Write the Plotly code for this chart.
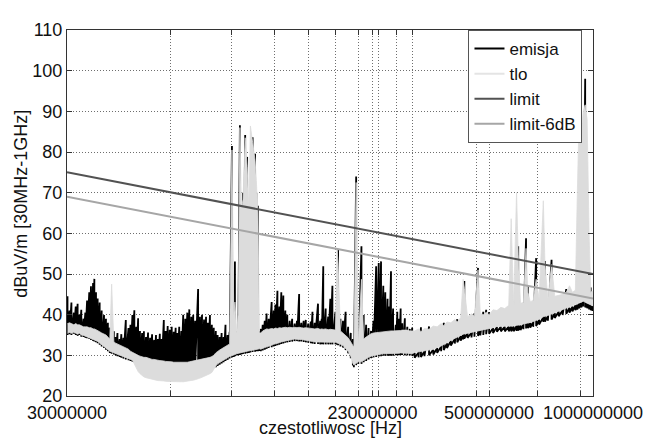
import math
import plotly.graph_objects as go

# ---- data (frequency in MHz, levels in dBuV/m) ----
freq_mhz = [
    30.1, 30.5, 30.9, 31.4, 31.8, 32.2, 32.6, 33.0, 33.5, 33.9,
    34.3, 34.8, 35.2, 35.7, 36.0, 36.4, 36.8, 37.3, 37.8, 38.4,
    38.9, 39.4, 39.9, 40.4, 41.0, 41.5, 42.0, 42.6, 43.1, 43.7,
    44.4, 45.2, 45.8, 46.4, 47.0, 47.6, 48.2, 48.8, 49.5, 50.1,
    50.8, 51.5, 52.2, 52.9, 53.6, 54.3, 55.0, 55.7, 56.4, 57.2,
    57.9, 58.7, 59.5, 60.3, 61.1, 61.9, 62.6, 63.4, 64.3, 65.1,
    66.0, 66.9, 67.8, 68.7, 69.6, 70.5, 71.9, 72.8, 73.8, 74.8,
    75.8, 76.7, 77.8, 78.8, 79.8, 80.9, 81.9, 83.0, 84.1, 85.2,
    86.3, 87.5, 88.7,
    90.1, 91.2, 91.9, 93.0, 93.9, 95.0, 96.0, 97.0, 98.4, 99.7,
    100.8, 101.9, 103.4, 105.1, 106.0, 107.1, 108.2,
    109.2, 110.6, 112.1, 113.5, 115.1, 117.4, 119.0, 120.4, 122.0, 123.6,
    125.2, 126.9, 128.6, 130.3, 132.4, 134.6, 136.8, 139.0, 141.0, 143.0,
    145.3, 147.4, 149.8, 152.4, 154.1, 156.4, 159.9, 162.2, 163.9, 165.6,
    168.3, 171.1, 173.6, 176.0, 179.6, 181.6, 182.8, 185.7, 188.9, 192.2,
    195.5, 198.9, 201.7, 203.1, 206.2, 209.2, 213.6, 216.8, 220.4, 224.0,
    227.7, 231.5, 235.6, 239.7, 243.4, 247.1, 250.4, 254.2, 257.1, 260.1,
    263.8, 268.5, 271.3, 274.3, 277.4, 280.3, 285.3, 290.0, 294.9, 299.6,
    304.6, 312.5, 317.6, 325.1, 335.2, 344.8, 353.9, 363.3, 369.8, 377.8,
    387.7, 398.0, 404.6, 414.0, 420.8, 424.1, 433.3, 444.8, 453.6, 464.6,
    471.8, 481.2, 490.6, 500.3, 513.6, 527.1, 541.1, 555.4, 570.2, 579.6,
    589.0, 600.7, 607.4, 616.7, 628.9, 640.0, 647.6, 658.3, 671.3, 684.6,
    698.2, 718.1, 726.0, 740.4, 758.6, 775.1, 795.7, 816.8, 836.7, 855.0,
    871.9, 889.1, 900.8, 912.7, 924.7, 936.8, 949.2, 961.7, 974.3, 985.2,
    996.8,
]

emisja_lo = [
    35.0, 35.2, 35.0, 35.3, 35.0, 34.8, 35.0, 34.6, 34.5, 34.3,
    34.2, 34.0, 33.8, 33.5, 33.4, 33.2, 33.0, 32.6, 32.2, 31.8,
    31.4, 31.0, 30.6, 30.4, 30.2, 30.0, 29.8, 29.6, 29.4, 29.2,
    29.0, 28.8, 28.6, 28.4, 28.3, 28.0, 28.0, 27.8, 27.6, 27.5,
    27.4, 27.3, 27.2, 27.1, 27.0, 27.0, 27.0, 27.0, 27.0, 27.0,
    27.0, 27.0, 27.0, 27.0, 27.0, 27.0, 27.0, 27.0, 27.0, 27.0,
    27.0, 27.0, 27.0, 27.0, 27.0, 27.0, 27.0, 27.0, 27.0, 27.0,
    27.0, 27.0, 27.0, 27.0, 27.0, 27.1, 27.4, 27.7, 28.0, 28.3,
    28.6, 28.9, 29.2,
    29.5, 29.6, 29.8, 30.0, 30.0, 30.1, 30.2, 30.3, 30.4, 30.5,
    30.6, 30.7, 30.8, 30.9, 31.0, 31.0, 31.1,
    31.0, 31.2, 31.4, 31.6, 31.8, 32.0, 32.2, 32.3, 32.5, 32.6,
    32.8, 32.9, 33.1, 33.2, 33.3, 33.4, 33.5, 33.5, 33.4, 33.4,
    33.3, 33.2, 33.1, 33.0, 32.9, 32.8, 32.8, 32.7, 32.7, 32.7,
    32.7, 32.7, 32.7, 32.7, 32.7, 32.6, 32.5, 32.2, 31.9, 31.3,
    30.5, 29.3, 27.5, 27.1, 27.6, 27.9, 27.9, 28.3, 28.6, 29.0,
    29.3, 29.5, 29.6, 29.7, 29.8, 29.9, 29.9, 29.9, 29.9, 29.9,
    29.9, 30.0, 30.0, 30.0, 30.1, 30.1, 30.0, 30.0, 30.0, 29.9,
    29.4, 29.5, 29.6, 29.8, 30.0, 30.2, 30.6, 31.0, 31.3, 31.8,
    32.4, 32.9, 33.2, 33.6, 33.9, 34.1, 34.3, 34.4, 34.6, 34.8,
    34.9, 35.0, 35.2, 35.3, 35.5, 35.8, 35.9, 35.9, 35.9, 35.9,
    35.9, 36.0, 36.1, 36.2, 36.4, 36.6, 36.7, 36.8, 37.0, 37.2,
    37.6, 38.2, 38.3, 38.5, 38.8, 39.2, 39.6, 39.9, 40.2, 40.5,
    40.8, 41.1, 41.3, 41.6, 41.8, 42.0, 41.8, 41.6, 41.3, 41.1,
    40.9,
]

emisja_hi = [
    44.5, 41.0, 43.0, 40.5, 42.0, 42.7, 40.0, 41.2, 39.0, 40.5,
    43.5, 45.5, 47.0, 47.8, 48.8, 45.5, 44.0, 43.0, 41.0, 39.9,
    39.0, 38.0, 36.8, 36.0, 35.9, 34.5, 35.5, 34.0, 35.2, 34.3,
    38.7, 36.7, 37.5, 39.9, 41.1, 37.0, 39.1, 36.0, 35.5, 35.9,
    34.5, 35.6, 34.3, 35.2, 33.8, 35.0, 34.0, 35.3, 34.0, 38.7,
    36.0, 37.2, 36.3, 37.0, 35.8, 36.8, 35.5, 37.0, 36.0, 40.0,
    39.0, 40.5, 41.3, 39.5, 40.0, 38.5, 46.3, 39.5, 40.0, 38.8,
    39.5, 38.0, 39.9, 37.5, 36.8, 36.0, 35.0, 34.5, 35.5, 34.5,
    37.5, 35.0, 35.8,
    81.5, 36.0, 53.1, 36.0, 36.0, 86.6, 66.0, 70.0, 84.2, 78.8,
    66.0, 60.0, 83.6, 79.6, 70.0, 66.8, 36.0,
    36.5, 37.5, 38.5, 40.3, 39.0, 43.1, 41.0, 42.5, 45.9, 42.0,
    45.5, 44.7, 41.0, 40.0, 38.5, 39.0, 37.8, 38.5, 45.1, 38.0,
    38.5, 38.7, 37.8, 38.3, 40.7, 38.0, 42.7, 38.5, 39.0, 51.9,
    41.5, 39.5, 43.9, 47.1, 40.7, 40.0, 55.9, 39.0, 38.5, 40.7,
    37.0, 35.5, 34.0, 32.7, 74.0, 35.0, 56.8, 39.9, 37.5, 36.7,
    36.0, 38.5, 51.9, 52.7, 53.1, 47.1, 45.5, 43.9, 42.0, 50.7,
    41.5, 37.5, 40.7, 39.0, 41.5, 37.9, 39.1, 37.0, 36.5, 36.8,
    30.6, 30.7, 36.9, 31.0, 37.1, 31.4, 31.8, 32.2, 38.0, 33.0,
    33.6, 34.1, 38.9, 34.8, 35.1, 48.3, 35.5, 35.6, 40.3, 51.5,
    36.1, 40.7, 41.2, 40.6, 36.7, 37.0, 37.1, 37.1, 37.1, 37.1,
    37.1, 37.2, 56.8, 37.4, 37.6, 58.8, 47.1, 38.0, 38.2, 53.9,
    38.8, 39.4, 53.2, 39.7, 53.5, 40.4, 40.8, 41.1, 46.3, 41.7,
    42.0, 42.3, 42.5, 42.8, 43.0, 43.2, 98.0, 42.8, 42.5, 46.7,
    42.1,
]

tlo_lo = [
    35.4, 35.6, 35.4, 35.7, 35.4, 35.2, 35.4, 35.0, 34.9, 34.7,
    34.6, 34.4, 34.2, 33.9, 33.8, 33.6, 33.4, 33.0, 32.6, 32.2,
    31.8, 31.4, 31.0, 30.8, 30.6, 30.4, 30.2, 30.0, 29.8, 29.6,
    29.4, 29.2, 29.0, 28.8, 28.0, 27.0, 26.0, 25.5, 25.0, 24.7,
    24.5, 24.3, 24.2, 24.0, 24.0, 23.9, 23.8, 23.8, 23.7, 23.7,
    23.6, 23.6, 23.6, 23.5, 23.5, 23.5, 23.5, 23.5, 23.5, 23.5,
    23.6, 23.6, 23.7, 23.8, 23.9, 24.0, 24.2, 24.4, 24.6, 24.8,
    25.0, 25.2, 25.5, 25.8, 26.5, 27.4, 27.9, 28.2, 28.5, 28.8,
    29.1, 29.4, 29.7,
    30.0, 30.1, 30.2, 30.4, 30.5, 30.6, 30.7, 30.8, 30.9, 31.0,
    31.1, 31.2, 31.3, 31.4, 31.5, 31.5, 31.6,
    31.5, 31.7, 31.9, 32.1, 32.3, 32.5, 32.7, 32.8, 33.0, 33.1,
    33.3, 33.4, 33.6, 33.7, 33.8, 33.9, 34.0, 34.0, 33.9, 33.9,
    33.8, 33.7, 33.6, 33.5, 33.4, 33.3, 33.3, 33.2, 33.2, 33.2,
    33.2, 33.2, 33.2, 33.2, 33.2, 33.1, 33.0, 32.7, 32.4, 31.8,
    31.0, 29.8, 28.0, 27.6, 28.1, 28.4, 28.4, 28.8, 29.1, 29.5,
    29.8, 30.0, 30.1, 30.2, 30.3, 30.4, 30.4, 30.4, 30.4, 30.4,
    30.4, 30.5, 30.5, 30.5, 30.6, 30.6, 30.5, 30.5, 30.5, 30.4,
    30.7, 30.8, 30.9, 31.1, 31.3, 31.5, 31.9, 32.3, 32.6, 33.1,
    33.7, 34.2, 34.5, 34.9, 35.2, 35.4, 35.6, 35.7, 35.9, 36.1,
    36.2, 36.3, 36.5, 36.6, 36.8, 37.1, 37.2, 37.2, 37.2, 37.2,
    37.2, 37.3, 37.4, 37.5, 37.7, 37.9, 38.0, 38.1, 38.3, 38.5,
    38.9, 39.5, 39.6, 39.8, 40.1, 40.5, 40.9, 41.2, 41.5, 41.8,
    42.1, 42.4, 42.6, 42.9, 43.1, 43.3, 43.1, 42.9, 42.6, 42.4,
    42.2,
]

tlo_hi = [
    37.8, 38.0, 37.8, 37.5, 37.8, 37.5, 37.5, 37.2, 37.0, 37.0,
    37.0, 36.8, 36.8, 36.5, 36.5, 36.3, 36.0, 35.8, 35.5, 35.3,
    35.0, 34.5, 34.0, 47.5, 33.3, 33.0, 32.8, 32.5, 32.3, 32.0,
    31.8, 31.5, 31.0, 30.7, 30.5, 30.3, 30.0, 29.8, 29.6, 29.5,
    29.5, 29.3, 29.3, 29.0, 29.0, 28.8, 28.8, 28.7, 28.7, 28.6,
    28.5, 28.5, 28.4, 28.4, 28.3, 28.3, 28.3, 28.2, 28.2, 28.2,
    28.3, 28.3, 28.4, 28.5, 28.6, 28.7, 28.8, 29.0, 29.0, 29.2,
    29.3, 29.4, 29.5, 29.7, 30.0, 30.6, 31.0, 31.3, 31.6, 31.9,
    32.2, 32.5, 32.8,
    80.5, 40.0, 43.1, 35.5, 40.0, 86.0, 66.0, 68.4, 83.5, 76.4,
    66.0, 86.4, 82.4, 78.0, 73.0, 65.0, 35.5,
    35.5, 36.0, 36.3, 36.5, 36.4, 36.6, 36.5, 36.7, 36.6, 36.8,
    36.7, 36.8, 36.9, 36.8, 36.9, 36.8, 36.9, 36.8, 36.9, 36.8,
    36.7, 36.8, 36.7, 36.6, 36.7, 36.5, 36.6, 36.4, 36.5, 36.4,
    36.5, 36.3, 36.4, 36.3, 36.2, 56.0, 52.7, 36.0, 35.5, 35.0,
    34.3, 33.3, 32.5, 32.0, 72.5, 33.0, 48.7, 34.0, 34.5, 35.0,
    35.3, 35.5, 35.6, 35.7, 35.8, 35.8, 35.9, 35.9, 36.0, 36.0,
    36.0, 36.0, 36.1, 36.1, 36.1, 36.2, 36.2, 36.2, 36.0, 36.0,
    36.0, 36.5, 35.8, 36.6, 36.4, 37.2, 37.0, 37.8, 37.3, 38.2,
    38.0, 38.8, 38.2, 39.3, 48.7, 46.5, 39.5, 40.2, 39.6, 51.0,
    40.3, 40.0, 40.6, 40.0, 41.2, 41.0, 41.8, 41.5, 42.3, 63.6,
    42.5, 70.0, 54.7, 42.8, 43.0, 56.3, 45.5, 43.2, 43.5, 48.7,
    43.8, 68.0, 52.3, 44.0, 52.3, 44.5, 44.8, 45.0, 45.5, 47.1,
    45.5, 46.0, 70.0, 91.0, 85.0, 90.0, 91.6, 88.0, 60.0, 45.5,
    45.8,
]

limit_mhz = [30, 1000]
limit_db = [75, 50]
limit6_db = [69, 44]

grid_mhz = [30, 60, 90, 120, 150, 180, 210, 230, 240, 270, 300, 460, 500, 690, 920, 1000]
label_mhz = {30: "30000000", 230: "230000000", 500: "500000000", 1000: "1000000000"}
y_ticks = [20, 30, 40, 50, 60, 70, 80, 90, 100, 110]


def sweep_path(freqs, lo, hi):
    """Dense swept trace: at each frequency the max then the min reading, joined in order."""
    xs, ys = [], []
    for f, a, b in zip(freqs, lo, hi):
        xs.extend([f * 1e6, f * 1e6])
        ys.extend([b, a])
    return xs, ys


def band(freqs, lo, hi):
    """Outline of a swept spectrum: max-hold going up in frequency, min-hold coming back."""
    xs = [f * 1e6 for f in freqs] + [f * 1e6 for f in reversed(freqs)]
    ys = list(hi) + list(reversed(lo))
    return xs, ys


ex, ey = sweep_path(freq_mhz, emisja_lo, emisja_hi)
tx, ty = band(freq_mhz, tlo_lo, tlo_hi)

FONT = "Liberation Sans, Arial, Helvetica, sans-serif"
C_EMI, C_TLO, C_LIM, C_LIM6 = "#000000", "#dcdcdc", "#525252", "#a6a6a6"
TXT = "#111111"

fig = go.Figure()
# legend entries (line samples)
fig.add_trace(go.Scatter(x=[None], y=[None], mode="lines", name="emisja",
                         legendgroup="emisja", line=dict(color=C_EMI, width=2)))
fig.add_trace(go.Scatter(x=[None], y=[None], mode="lines", name="tlo",
                         legendgroup="tlo", line=dict(color="#e4e4e4", width=2)))
# spectra
fig.add_trace(go.Scatter(x=ex, y=ey, mode="lines",
                         line=dict(color=C_EMI, width=1.8), legendgroup="emisja",
                         showlegend=False, hoverinfo="skip"))
fig.add_trace(go.Scatter(x=tx, y=ty, mode="lines", fill="toself", fillcolor=C_TLO,
                         line=dict(color=C_TLO, width=0.8), legendgroup="tlo",
                         showlegend=False, hoverinfo="skip"))
# limits
fig.add_trace(go.Scatter(x=[f * 1e6 for f in limit_mhz], y=limit_db, mode="lines",
                         name="limit", legendgroup="limit",
                         line=dict(color=C_LIM, width=2)))
fig.add_trace(go.Scatter(x=[f * 1e6 for f in limit_mhz], y=limit6_db, mode="lines",
                         name="limit-6dB", legendgroup="limit6",
                         line=dict(color=C_LIM6, width=2)))

axis_common = dict(
    showgrid=True, gridcolor="#6e6e6e", griddash="1px,2px", gridwidth=1,
    ticks="inside", ticklen=5, tickcolor="#333333",
    showline=True, linecolor="#333333", linewidth=1, mirror="ticks",
    zeroline=False, tickfont=dict(family=FONT, size=18, color=TXT),
)

# the page body adds an 8px offset, so the figure is 8px smaller than the window
fig.update_layout(
    width=647, height=431,
    margin=dict(l=59, r=51, t=14, b=43),
    paper_bgcolor="white", plot_bgcolor="white",
    font=dict(family=FONT, size=18, color=TXT),
    showlegend=True,
    legend=dict(x=0.98, y=1.0, xanchor="right", yanchor="top",
                bgcolor="white", bordercolor="#555555", borderwidth=1,
                font=dict(family=FONT, size=17, color=TXT),
                itemwidth=30, tracegroupgap=0),
    xaxis=dict(type="log",
               range=[math.log10(30e6), math.log10(1e9)],
               tickmode="array",
               tickvals=[g * 1e6 for g in grid_mhz],
               ticktext=[label_mhz.get(g, "") for g in grid_mhz],
               **axis_common),
    yaxis=dict(range=[20, 110], tickmode="array", tickvals=y_ticks,
               ticktext=[str(v) for v in y_ticks],
               **axis_common),
    annotations=[
        dict(text="czestotliwosc [Hz]", xref="paper", yref="paper",
             x=0.5, y=-0.0875, xanchor="center", yanchor="middle",
             showarrow=False, font=dict(family=FONT, size=18, color=TXT)),
        dict(text="dBuV/m [30MHz-1GHz]", xref="paper", yref="paper",
             x=-0.0863, y=0.524, xanchor="center", yanchor="middle",
             textangle=-90, showarrow=False,
             font=dict(family=FONT, size=18, color=TXT)),
    ],
)

fig.write_html("out.html")
